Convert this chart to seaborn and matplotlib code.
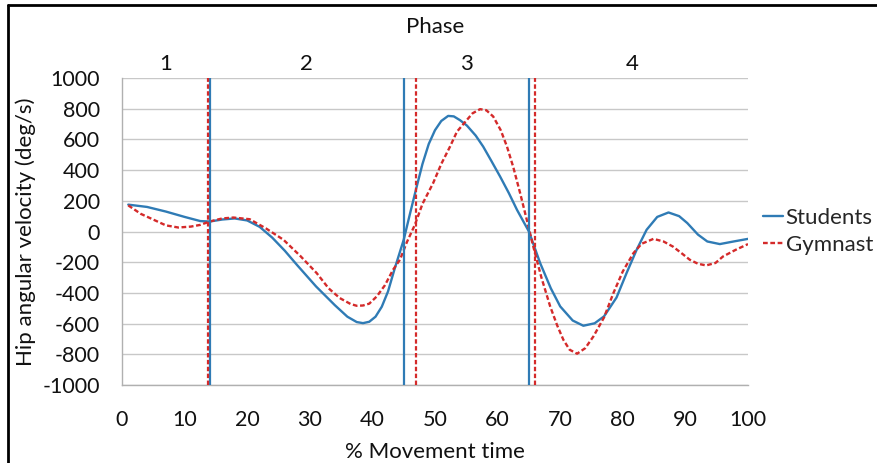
import matplotlib
matplotlib.use("Agg")
import matplotlib.pyplot as plt
import seaborn as sns
import pandas as pd
from matplotlib.lines import Line2D

# ---- data ----
students_x = [1, 4, 7, 10, 12.5, 14, 16, 18, 20, 22, 24, 26, 28, 31, 34, 36, 37.5, 38.5, 39.5, 40.5,
              41.5, 42.5, 43.5, 45, 46, 47, 48, 49, 50, 51, 52.1, 53, 54, 55.1, 56.5, 57.7, 59, 60.4,
              61.8, 63.1, 65, 66.8, 68.5, 70, 72, 73.7, 75.5, 77, 79, 80.6, 82.2, 83.8, 85.5, 87.3,
              89, 90.3, 92, 93.5, 95.5, 97.7, 100]
students_y = [175, 160, 130, 95, 68, 65, 78, 85, 72, 30, -40, -125, -220, -358, -480, -555, -590, -597,
              -588, -555, -490, -390, -250, -54, 115, 280, 440, 570, 660, 720, 753, 750, 725, 690, 625,
              553, 460, 358, 250, 141, 0, -206, -370, -488, -580, -614, -598, -553, -430, -271, -120, 11,
              95, 124, 100, 55, -20, -65, -82, -65, -48]

gymnast_x = [1, 3, 4.5, 7, 9, 11, 12.5, 14, 16, 17.8, 20.4, 23, 25.8, 28.5, 31.1, 33, 34.8, 36.5, 37.5,
             38.5, 39.5, 40.7, 42, 43.3, 44.4, 45.5, 46.8, 48, 49.7, 51, 52.4, 53.5, 55.1, 56, 57.2,
             58.2, 59.3, 60.5, 61.5, 62.5, 63.6, 64.7, 65.7, 67, 68.4, 69.5, 70.5, 71.5, 72.7, 74, 75.3,
             77, 78.5, 80, 81.7, 83, 84.9, 86.5, 88, 89.5, 90.7, 92, 93.3, 94.8, 96, 98, 100]
gymnast_y = [170, 115, 87, 40, 26, 32, 43, 65, 85, 91, 80, 20, -54, -160, -271, -370, -434, -472, -484,
             -482, -470, -423, -350, -249, -184, -70, 45, 180, 315, 440, 553, 650, 727, 770, 797, 790,
             749, 660, 553, 420, 250, 70, -98, -300, -488, -610, -705, -770, -796, -760, -684, -560,
             -401, -260, -141, -80, -48, -65, -98, -145, -184, -210, -221, -205, -163, -120, -82]

students_phase_bounds = [14.1, 45, 65]
gymnast_phase_bounds = [13.8, 47, 66]
phase_labels = ["1", "2", "3", "4"]
phase_label_x = [7, 29.5, 55, 81.5]

# ---- style ----
sns.set_style("white")
plt.rcParams['font.family'] = ['Lato', 'DejaVu Sans']
plt.rcParams['axes.unicode_minus'] = False

blue = "#2f7bb5"
red = "#d42a2a"
dash = (0, (2.0, 1.1))
FS = 16

W, H = 878, 463
fig = plt.figure(figsize=(W / 100, H / 100), dpi=100)
ax = fig.add_axes([122 / W, 1 - 385 / H, (748 - 122) / W, (385 - 78) / H])

df_s = pd.DataFrame({"x": students_x, "y": students_y})
df_g = pd.DataFrame({"x": gymnast_x, "y": gymnast_y})

sns.lineplot(data=df_s, x="x", y="y", ax=ax, color=blue, lw=1.7, label="Students", sort=True)
sns.lineplot(data=df_g, x="x", y="y", ax=ax, color=red, lw=1.7, label="Gymnast",
             linestyle=dash, sort=True)

for b in students_phase_bounds:
    ax.axvline(b, color=blue, lw=1.6, zorder=3)
for b in gymnast_phase_bounds:
    ax.axvline(b, color=red, lw=1.6, ls=dash, zorder=3)

ax.set_xlim(0, 100)
ax.set_ylim(-1000, 1000)
ax.set_xticks(range(0, 101, 10))
ax.set_yticks(range(-1000, 1001, 200))
ax.tick_params(axis='both', labelsize=15.5, length=0, colors="#111111")
ax.tick_params(axis='x', pad=18)
ax.tick_params(axis='y', pad=16)
ax.grid(axis='y', color="#c8c8c8", lw=1)
ax.set_axisbelow(True)
for s in ["top", "right"]:
    ax.spines[s].set_visible(False)
for s in ["left", "bottom"]:
    ax.spines[s].set_color("#b0b0b0")
    ax.spines[s].set_linewidth(1)

ax.set_xlabel("% Movement time", fontsize=FS, labelpad=9, color="#111111")
ax.set_ylabel("Hip angular velocity (deg/s)", fontsize=FS, color="#111111")
ax.yaxis.set_label_coords((36 - 122) / (748 - 122), 0.5)

for lab, px in zip(phase_labels, phase_label_x):
    ax.text(px, 1 + 8 / 307, lab, transform=ax.get_xaxis_transform(), ha="center",
            va="baseline", fontsize=FS, color="#111111")
ax.text(50, 1 + 45 / 307, "Phase", transform=ax.get_xaxis_transform(), ha="center",
        va="baseline", fontsize=FS, color="#111111")

leg = ax.legend(loc="center left", bbox_to_anchor=(763 / W, 1 - 231.5 / H),
                bbox_transform=fig.transFigure, frameon=False, fontsize=FS,
                handlelength=0.9, handletextpad=0.12, labelspacing=0.3,
                borderpad=0, borderaxespad=0)

# partial border (left and top)
fig.add_artist(Line2D([8 / W, 8 / W], [0, 1 - 5 / H], transform=fig.transFigure, color="black", lw=2))
fig.add_artist(Line2D([8 / W, 1], [1 - 5 / H, 1 - 5 / H], transform=fig.transFigure, color="black", lw=2))

fig.savefig("out.png", dpi=100)
